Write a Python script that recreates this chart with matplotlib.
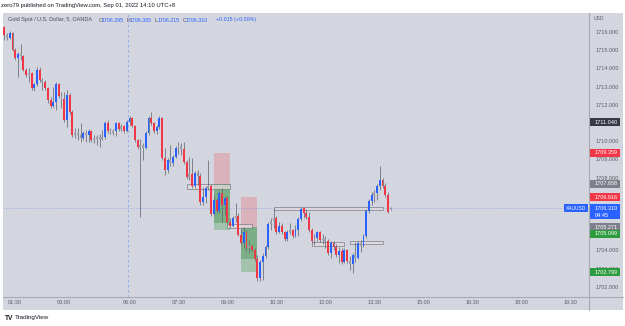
import numpy as np
import pandas as pd
import matplotlib
matplotlib.use("Agg")
import matplotlib.pyplot as plt
from matplotlib.patches import Rectangle
from matplotlib.lines import Line2D
from matplotlib.transforms import blended_transform_factory

plt.rcParams['font.family'] = ['Liberation Sans', 'DejaVu Sans']

# -------------------- data: XAUUSD 5 min, Sep 01 2022 (UTC+8) --------------------
# session A: 01:10 - 04:55
open_a = [1716.27, 1715.84, 1715.67, 1715.95, 1715.01, 1714.57, 1714.79, 1714.68, 1713.91, 1713.64,
          1713.75, 1712.92, 1713.14, 1713.91, 1713.36, 1713.25, 1712.92, 1712.26, 1711.93, 1712.15,
          1713.14, 1712.48, 1712.32, 1711.16, 1712.54, 1711.60, 1710.34, 1710.45, 1710.34, 1710.18,
          1710.45, 1710.34, 1710.56, 1710.07, 1710.12, 1710.23, 1710.12, 1710.23, 1711.00, 1710.56,
          1710.45, 1710.56, 1711.00, 1710.67, 1710.83, 1710.56]
high_a = [1716.33, 1715.95, 1716.05, 1716.00, 1715.12, 1714.90, 1715.34, 1714.74, 1714.02, 1714.02,
          1713.80, 1713.20, 1714.08, 1714.08, 1713.47, 1713.36, 1712.98, 1712.43, 1712.98, 1713.25,
          1713.20, 1712.70, 1712.70, 1712.81, 1712.65, 1711.71, 1710.73, 1710.73, 1711.00, 1710.56,
          1710.62, 1710.67, 1710.62, 1710.34, 1710.34, 1710.40, 1710.62, 1711.11, 1711.16, 1710.73,
          1710.67, 1711.05, 1711.05, 1710.94, 1710.89, 1711.16]
low_a = [1715.56, 1715.56, 1715.62, 1714.96, 1714.46, 1713.53, 1714.46, 1713.86, 1713.53, 1713.25,
         1712.81, 1712.76, 1713.03, 1713.25, 1712.81, 1712.81, 1712.10, 1711.82, 1711.88, 1711.71,
         1712.37, 1711.82, 1711.05, 1710.78, 1711.49, 1710.23, 1710.18, 1710.07, 1709.96, 1710.07,
         1709.96, 1709.96, 1709.96, 1709.90, 1709.79, 1709.68, 1710.07, 1710.12, 1710.45, 1710.40,
         1710.34, 1710.29, 1710.56, 1710.56, 1710.45, 1710.51]
close_a = [1715.84, 1715.67, 1715.95, 1715.01, 1714.57, 1714.79, 1714.68, 1713.91, 1713.64, 1713.75,
           1712.92, 1713.14, 1713.91, 1713.36, 1713.25, 1712.92, 1712.26, 1711.93, 1712.15, 1713.14,
           1712.48, 1712.32, 1711.16, 1712.54, 1711.60, 1710.34, 1710.45, 1710.34, 1710.18, 1710.45,
           1710.34, 1710.56, 1710.07, 1710.12, 1710.23, 1710.12, 1710.23, 1711.00, 1710.56, 1710.45,
           1710.56, 1711.00, 1710.67, 1710.83, 1710.56, 1711.05]

# session B: 06:00 - 14:00
open_b = [1711.05, 1711.27, 1710.83, 1710.07, 1709.68, 1709.79, 1709.63, 1710.45, 1711.27, 1711.00,
          1710.56, 1710.78, 1711.27, 1709.08, 1708.42, 1708.97, 1708.80, 1709.13, 1709.63, 1709.74,
          1709.57, 1708.86, 1708.03, 1708.20, 1707.54, 1708.25, 1708.09, 1706.66, 1706.93, 1707.43,
          1707.54, 1706.00, 1706.77, 1706.16, 1707.15, 1706.49, 1706.88, 1705.56, 1705.34, 1705.78,
          1705.89, 1704.85, 1704.41, 1705.01, 1704.13, 1704.24, 1704.02, 1703.53, 1702.48, 1703.36,
          1703.69, 1704.19, 1705.45, 1705.61, 1705.78, 1705.01, 1705.34, 1705.01, 1704.63, 1705.01,
          1705.12, 1704.79, 1705.12, 1705.73, 1706.33, 1706.05, 1705.84, 1705.12, 1704.52, 1704.68,
          1705.01, 1704.57, 1704.63, 1704.52, 1703.86, 1704.41, 1704.19, 1703.75, 1703.97, 1703.36,
          1704.02, 1703.42, 1703.25, 1703.75, 1703.58, 1704.41, 1704.24, 1704.79, 1706.16, 1706.71,
          1707.04, 1707.15, 1707.54, 1707.87, 1707.54, 1707.04, 1706.295]
high_b = [1711.38, 1711.33, 1710.89, 1710.12, 1710.12, 1709.90, 1710.56, 1711.38, 1711.60, 1711.05,
          1710.89, 1711.38, 1711.33, 1709.63, 1709.08, 1709.79, 1709.24, 1709.74, 1709.96, 1709.90,
          1709.96, 1708.97, 1709.13, 1709.08, 1708.36, 1708.42, 1708.25, 1707.48, 1707.54, 1708.97,
          1707.65, 1707.04, 1706.88, 1707.26, 1707.43, 1706.99, 1706.99, 1705.78, 1705.89, 1706.60,
          1706.05, 1705.17, 1705.29, 1705.12, 1704.57, 1704.30, 1704.13, 1703.75, 1703.47, 1703.86,
          1704.30, 1705.56, 1705.78, 1706.33, 1705.89, 1705.56, 1705.51, 1705.06, 1705.12, 1705.51,
          1705.17, 1705.40, 1705.84, 1706.38, 1706.38, 1706.27, 1706.11, 1705.23, 1704.90, 1705.06,
          1705.06, 1704.90, 1704.79, 1704.63, 1704.52, 1704.52, 1704.35, 1704.19, 1704.13, 1704.13,
          1704.08, 1703.69, 1703.86, 1704.46, 1704.52, 1704.57, 1704.90, 1706.27, 1706.82, 1707.21,
          1707.32, 1707.65, 1708.64, 1707.98, 1707.70, 1707.21, 1706.365]
low_b = [1710.89, 1710.78, 1709.96, 1709.57, 1705.83, 1708.97, 1709.57, 1710.34, 1710.89, 1710.45,
         1710.40, 1710.67, 1708.97, 1708.14, 1708.25, 1708.64, 1708.64, 1709.08, 1709.30, 1709.24,
         1708.75, 1707.93, 1707.87, 1707.43, 1707.43, 1707.59, 1706.49, 1706.49, 1706.60, 1707.32,
         1705.89, 1705.94, 1706.05, 1706.05, 1705.56, 1705.94, 1705.45, 1705.23, 1705.29, 1705.56,
         1704.79, 1704.30, 1704.13, 1703.97, 1703.86, 1703.91, 1703.42, 1702.32, 1702.32, 1702.37,
         1703.58, 1704.08, 1705.12, 1705.23, 1704.90, 1704.95, 1704.90, 1704.52, 1704.52, 1704.90,
         1704.68, 1704.74, 1704.79, 1705.62, 1705.78, 1705.73, 1705.01, 1704.41, 1704.30, 1704.52,
         1704.46, 1704.35, 1704.13, 1703.75, 1703.58, 1704.02, 1703.64, 1703.31, 1703.25, 1703.31,
         1703.31, 1702.92, 1702.76, 1703.36, 1703.53, 1703.91, 1704.19, 1704.68, 1706.05, 1706.49,
         1706.66, 1706.77, 1707.32, 1707.43, 1706.93, 1706.05, 1706.215]
close_b = [1711.27, 1710.83, 1710.07, 1709.68, 1709.79, 1709.63, 1710.45, 1711.27, 1711.00, 1710.56,
           1710.78, 1711.27, 1709.08, 1708.42, 1708.97, 1708.80, 1709.13, 1709.63, 1709.74, 1709.57,
           1708.86, 1708.03, 1708.20, 1707.54, 1708.25, 1708.09, 1706.66, 1706.93, 1707.43, 1707.54,
           1706.00, 1706.77, 1706.16, 1707.15, 1706.49, 1706.88, 1705.56, 1705.34, 1705.78, 1705.89,
           1704.85, 1704.41, 1705.01, 1704.13, 1704.24, 1704.02, 1703.53, 1702.48, 1703.36, 1703.69,
           1704.19, 1705.45, 1705.61, 1705.78, 1705.01, 1705.34, 1705.01, 1704.63, 1705.01, 1705.12,
           1704.79, 1705.12, 1705.73, 1706.27, 1706.05, 1705.84, 1705.12, 1704.52, 1704.68, 1705.01,
           1704.57, 1704.63, 1704.52, 1703.86, 1704.41, 1704.19, 1703.75, 1703.97, 1703.36, 1704.02,
           1703.42, 1703.25, 1703.75, 1703.58, 1704.41, 1704.24, 1704.79, 1706.16, 1706.71, 1707.04,
           1707.15, 1707.54, 1707.87, 1707.54, 1707.04, 1706.11, 1706.310]

# short positions: start, end, entry, stop, target, lowest reached
pos_start = ["08:35", "09:25"]
pos_end = ["09:05", "09:55"]
pos_entry = [1707.658, 1705.271]
pos_stop = [1709.359, 1706.916]
pos_target = [1705.099, 1702.799]
pos_reached = [1705.50, 1703.53]

# horizontal zones: start, end, top, bottom
zone_start = ["07:45", "09:00", "10:25", "11:35", "12:45"]
zone_end = ["09:05", "09:45", "13:45", "12:35", "13:45"]
zone_top = [1707.65, 1705.45, 1706.38, 1704.46, 1704.52]
zone_bottom = [1707.37, 1705.23, 1706.22, 1704.24, 1704.35]

tag_prices = [1711.040, 1709.359, 1707.658, 1706.916, 1705.271, 1705.099, 1702.799]
last_price = 1706.310
change = 0.015
countdown = "04:45"
time_labels = ["01:30", "03:00", "06:00", "07:30", "09:00", "10:30",
               "12:00", "13:30", "15:00", "16:30", "18:00", "19:30"]
price_ticks = np.arange(1702, 1717)


# bar slot on the chart: market closed 05:00 - 06:00
def slot(hhmm):
    h, m = map(int, hhmm.split(":"))
    mins = h * 60 + m
    if mins >= 360:
        return (mins - 360) / 5
    return (mins - 300) / 5


times = list(pd.date_range("2022-09-01 01:10", "2022-09-01 04:55", freq="5min").strftime("%H:%M")) + \
        list(pd.date_range("2022-09-01 06:00", "2022-09-01 14:00", freq="5min").strftime("%H:%M"))
x = np.array([slot(t) for t in times])
o = np.array(open_a + open_b)
h = np.array(high_a + high_b)
l = np.array(low_a + low_b)
c = np.array(close_a + close_b)

# -------------------- figure layout (pixel based) --------------------
W, H = 625, 326
bg = "#d3d6de"
fig = plt.figure(figsize=(W / 100, H / 100), dpi=100, facecolor="white")
fig.patches.append(Rectangle((3 / W, 1 - 310 / H), 620 / W, 297 / H, transform=fig.transFigure,
                             fc=bg, ec="none", zorder=-5))
ax = fig.add_axes([3 / W, 1 - 297 / H, 586 / W, 284 / H])
ax.set_facecolor(bg)
ax.set_xlim(-46.5, 168.9)
ax.set_ylim(1701.44, 1717.04)
ppx = 284 / (1717.04 - 1701.44)
for s in ax.spines.values():
    s.set_visible(False)

fig.add_artist(Line2D([589 / W, 589 / W], [1 - 13 / H, 1 - 310 / H], color="#a7aab3", lw=0.8))
fig.add_artist(Line2D([3 / W, 623 / W], [1 - 297 / H, 1 - 297 / H], color="#a7aab3", lw=0.8))

# -------------------- drawings --------------------
for i in range(len(pos_entry)):
    x0, x1 = slot(pos_start[i]), slot(pos_end[i])
    ax.add_patch(Rectangle((x0, pos_entry[i]), x1 - x0, pos_stop[i] - pos_entry[i],
                           fc="#f23645", alpha=0.22, ec="none", zorder=1))
    ax.add_patch(Rectangle((x0, pos_target[i]), x1 - x0, pos_entry[i] - pos_target[i],
                           fc="#3a9a44", alpha=0.3, ec="none", zorder=1))
    ax.add_patch(Rectangle((x0, pos_reached[i]), x1 - x0, pos_entry[i] - pos_reached[i],
                           fc="#2f8a3a", alpha=0.35, ec="none", zorder=1))

for i in range(len(zone_top)):
    x0, x1 = slot(zone_start[i]), slot(zone_end[i])
    ax.add_patch(Rectangle((x0, zone_bottom[i]), x1 - x0, zone_top[i] - zone_bottom[i],
                           fc="#e4dadd", alpha=0.75, ec="#6f727c", lw=0.6, zorder=2))

ax.axvline(-0.5, color="#2962ff", alpha=0.4, lw=0.6, ls=(0, (3, 3)), zorder=1)
ax.axhline(last_price, color="#2962ff", alpha=0.45, lw=0.6, ls=(0, (1, 2)), zorder=1)

# -------------------- candles --------------------
body = c - o
cols = np.where(np.abs(body) < 0.2, "#9b9ea7", np.where(body > 0, "#2962ff", "#f23645"))
ax.vlines(x, l, h, color="#5d606b", lw=0.5, zorder=3)
ax.bar(x, np.where(np.abs(body) < 0.03, 0.03, body), bottom=o, width=0.7,
       color=cols, lw=0, zorder=4)

# -------------------- axes ticks --------------------
# labels hidden behind the price tags are left blank
hidden = {1705, 1706, 1707}
ax.yaxis.tick_right()
ax.set_yticks(price_ticks)
ax.set_yticklabels(["" if v in hidden else f"{v:.3f}" for v in price_ticks])
ax.tick_params(axis="y", length=0, pad=4.5, labelsize=4, labelcolor="#5d606b")
ax.set_xticks([slot(t) for t in time_labels])
ax.set_xticklabels(time_labels)
ax.tick_params(axis="x", length=0, pad=2.5, labelsize=4, labelcolor="#5d606b")

trans = blended_transform_factory(ax.transAxes, ax.transData)
tag_x0 = (590 - 3) / 586
tag_w = 30 / 586
text_x = (595 - 3) / 586
tag_cols = ["#363a45", "#f23645", "#7d808a", "#f23645", "#7d808a", "#2e9b3f", "#2e9b3f"]
tag_shift_px = [0, 0, 0, 0, 0, 3.5, 0]  # tags pushed apart so they do not overlap


def price_tag(p, text, fc):
    hh = 8 / ppx
    ax.add_patch(Rectangle((tag_x0, p - hh / 2), tag_w, hh, transform=trans, fc=fc,
                           ec="none", clip_on=False, zorder=10))
    ax.text(text_x, p, text, transform=trans, ha="left", va="center", fontsize=4,
            color="white", zorder=11, clip_on=False)


for p, fc, sh in zip(tag_prices, tag_cols, tag_shift_px):
    price_tag(p - sh / ppx, f"{p:.3f}", fc)

# current price tag with countdown
ax.add_patch(Rectangle((tag_x0, last_price - 11 / ppx), tag_w, 15.5 / ppx, transform=trans,
                       fc="#2962ff", ec="none", clip_on=False, zorder=10))
ax.text(text_x, last_price, f"{last_price:.3f}", transform=trans, ha="left", va="center",
        fontsize=4, color="white", zorder=11, clip_on=False)
ax.text(text_x, last_price - 7 / ppx, countdown, transform=trans, ha="left", va="center",
        fontsize=4, color="white", zorder=11, clip_on=False)
ax.add_patch(Rectangle(((564 - 3) / 586, last_price - 4 / ppx), 24 / 586, 8.5 / ppx,
                       transform=trans, fc="#2962ff", ec="none", clip_on=False, zorder=10))
ax.text((576 - 3) / 586, last_price + 0.2 / ppx, "XAUUSD", transform=trans, ha="center",
        va="center", fontsize=3.5, color="white", zorder=11)

# -------------------- texts --------------------
fig.text(1 / W, 1 - 6 / H, "zero79 published on TradingView.com, Sep 01, 2022 14:10 UTC+8",
         fontsize=4.2, color="#131722", va="center")
fig.text(594 / W, 1 - 18 / H, "USD", fontsize=3.6, color="#5d606b", va="center")

legend_y = 1 - 20 / H
fig.text(8 / W, legend_y, "Gold Spot / U.S. Dollar, 5, OANDA", fontsize=4, color="#4a4d57", va="center")
ohlc_names = ["O", "H", "L", "C"]
ohlc_vals = [open_b[-1], high_b[-1], low_b[-1], close_b[-1]]
ohlc_px = [99, 127, 155, 183]
for name, val, px in zip(ohlc_names, ohlc_vals, ohlc_px):
    fig.text(px / W, legend_y, name, fontsize=3.8, color="#4a4d57", va="center")
    fig.text((px + 3) / W, legend_y, f"{val:.3f}", fontsize=3.8, color="#2962ff", va="center")
fig.text(216 / W, legend_y, f"+{change:.3f} (+0.00%)", fontsize=3.8, color="#2962ff", va="center")

fig.text(5 / W, 1 - 318 / H, "TV", fontsize=4.8, weight="bold", color="#131722", va="center")
fig.text(15 / W, 1 - 318 / H, "TradingView", fontsize=4.5, color="#131722", va="center")

fig.savefig("out.png", dpi=100, facecolor="white")
